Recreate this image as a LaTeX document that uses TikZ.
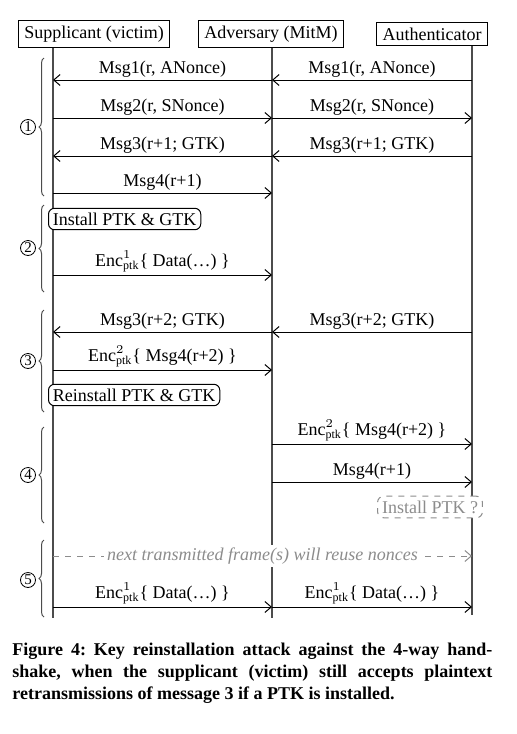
\documentclass[tikz,border=0pt]{standalone}
\usepackage{fontspec}
\setmainfont{Liberation Serif}
\usetikzlibrary{arrows.meta,decorations.pathreplacing}

\definecolor{hintgray}{gray}{0.55}
\definecolor{linegray}{gray}{0.3}

\tikzset{
    party/.style={draw, line width=0.5pt, inner sep=2.8pt},
    life/.style={draw=linegray, line width=0.6pt},
    msg/.style={draw, line width=0.5pt, -{Straight Barb[length=3.2pt,width=5.5pt]}},
    lbl/.style={above, inner sep=1pt},
    keybox/.style={draw, rounded corners=3pt, fill=white, line width=0.5pt, inner sep=2.2pt, anchor=west},
    hint/.style={draw=hintgray, text=hintgray, dashed, line width=0.5pt},
    phase/.style={circle, draw, line width=0.4pt, inner sep=0.3pt, minimum size=7.5pt, font=\fontsize{7.5}{8}\selectfont},
    bracket/.style={draw=linegray, line width=0.5pt, decorate, decoration={brace, amplitude=2.5pt}}
}

\begin{document}
\begin{tikzpicture}[x=0.5pt, y=-0.5pt, font=\fontsize{9}{10}\selectfont]
    \useasboundingbox (0,0) rectangle (516,734);

    % lifeline ends and message rows
    \coordinate (sEnd) at (53,618);
    \coordinate (aEnd) at (272,618);
    \coordinate (tEnd) at (472,615);
    \foreach \n/\y in {1/80,2/118,3/156,4/193,5/275,6/332,7/370,8/444,9/482,10/556,11/607} {
        \coordinate (s\n) at (53,\y);
        \coordinate (a\n) at (272,\y);
        \coordinate (t\n) at (472,\y);
    }

    \begin{scope}[every node/.style={party}]
        \node (sup) at (94,34) {Supplicant (victim)};
        \node (adv) at (271,34) {Adversary (MitM)};
        \node (auth) at (432,34) {Authenticator};
    \end{scope}

    \path [life] (sup.south -| sEnd) -- (sEnd);
    \path [life] (adv.south -| aEnd) -- (aEnd);
    \path [life] (auth.south -| tEnd) -- (tEnd);

    % phases
    \foreach \n/\top/\bot/\mid in {1/58/196/127, 2/205/292/248, 3/310/412/361, 4/427/523/475, 5/540/617/580} {
        \path [bracket] (44,\bot) -- (44,\top);
        \node [phase] (p\n) at (28,\mid) {\n};
    }

    \begin{scope}[every edge/.style={msg}]
        \path (a1) edge node[lbl] (m1s) {Msg1(r, ANonce)} (s1);
        \path (t1) edge node[lbl] (m1a) {Msg1(r, ANonce)} (a1);
        \path (s2) edge node[lbl] (m2a) {Msg2(r, SNonce)} (a2);
        \path (a2) edge node[lbl] (m2t) {Msg2(r, SNonce)} (t2);
        \path (a3) edge node[lbl] (m3s) {Msg3(r+1; GTK)} (s3);
        \path (t3) edge node[lbl] (m3a) {Msg3(r+1; GTK)} (a3);
        \path (s4) edge node[lbl] (m4a) {Msg4(r+1)} (a4);
        \path (s5) edge node[lbl] (d5a) {Enc$^{1}_{\mathrm{ptk}}$\{ Data(\dots) \}} (a5);
        \path (a6) edge node[lbl] (m6s) {Msg3(r+2; GTK)} (s6);
        \path (t6) edge node[lbl] (m6a) {Msg3(r+2; GTK)} (a6);
        \path (s7) edge node[lbl] (e7a) {Enc$^{2}_{\mathrm{ptk}}$\{ Msg4(r+2) \}} (a7);
        \path (a8) edge node[lbl] (e8t) {Enc$^{2}_{\mathrm{ptk}}$\{ Msg4(r+2) \}} (t8);
        \path (a9) edge node[lbl] (m9t) {Msg4(r+1)} (t9);
        \path (s11) edge node[lbl] (d11a) {Enc$^{1}_{\mathrm{ptk}}$\{ Data(\dots) \}} (a11);
        \path (a11) edge node[lbl] (d11t) {Enc$^{1}_{\mathrm{ptk}}$\{ Data(\dots) \}} (t11);
        \path (s10) edge[hint] node[fill=white, inner sep=1.5pt, font=\fontsize{9}{10}\selectfont\itshape] (reuse) {next transmitted frame(s) will reuse nonces} (t10);
    \end{scope}

    \node [keybox] (inst) at (48,219) {Install PTK \& GTK};
    \node [keybox] (reinst) at (48,395) {Reinstall PTK \& GTK};
    \node [keybox, hint, anchor=center] (chk) at (430,507) {Install PTK ?};

    \node [anchor=north west, text width=240pt, align=justify, inner sep=0pt,
           font=\fontsize{9}{11}\selectfont\bfseries\frenchspacing] (cap) at (12,643)
        {Figure 4: Key reinstallation attack against the 4-way hand-\linebreak
         shake, when the supplicant (victim) still accepts plaintext\linebreak
         retransmissions of message 3 if a PTK is installed.};
\end{tikzpicture}
\end{document}
